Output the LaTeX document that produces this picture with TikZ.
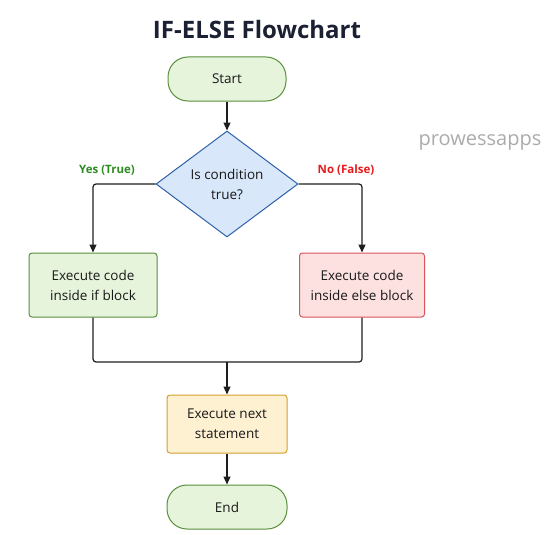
\documentclass[tikz,border=0pt]{standalone}
\usepackage{fontspec}
\setmainfont{Open Sans}
\usetikzlibrary{shapes.geometric,arrows.meta}
\definecolor{gfill}{HTML}{E6F4DC}
\definecolor{gdraw}{HTML}{5A8F3C}
\definecolor{bfill}{HTML}{D8E7F9}
\definecolor{bdraw}{HTML}{2E62A8}
\definecolor{rfill}{HTML}{FDE1E1}
\definecolor{rdraw}{HTML}{D9535A}
\definecolor{yfill}{HTML}{FDF1D2}
\definecolor{ydraw}{HTML}{D4A22C}
\definecolor{titlec}{HTML}{1B2033}
\definecolor{linec}{HTML}{1E1E1E}
\definecolor{yesc}{HTML}{2E8B22}
\definecolor{noc}{HTML}{E8191C}
\tikzset{
  x=1pt, y=-1pt,
  txt/.style={font=\fontsize{13.5}{20}\selectfont, text=black!90, align=center},
  term/.style={txt, draw=gdraw, fill=gfill, line width=1pt, rounded corners=20pt, minimum width=118pt, minimum height=44pt},
  procbox/.style={txt, draw=#1, line width=1pt, rounded corners=3pt, minimum height=64pt},
  decision/.style={txt, diamond, draw=bdraw, fill=bfill, line width=1pt, minimum width=142pt, minimum height=106pt, inner sep=0pt},
  conn/.style={draw=linec, line width=1.2pt, rounded corners=3pt},
  arr/.style={conn, -{Triangle[length=8pt,width=7pt]}},
  lab/.style={font=\fontsize{11.5}{13}\selectfont\bfseries}
}
\begin{document}
\begin{tikzpicture}
\useasboundingbox (0,0) rectangle (549,535);
\node[font=\fontsize{24}{28}\selectfont\bfseries, text=titlec] (title) at (257,30) {IF-ELSE Flowchart};
\node[font=\fontsize{20}{24}\selectfont, text=black!33] (wm) at (480,142) {prowessapps};
\node[term] (start) at (227,79) {Start};
\node[decision] (cond) at (227,184) {Is condition\\true?};
\node[procbox=gdraw, fill=gfill, minimum width=128pt] (ifb) at (93,285) {Execute code\\inside if block};
\node[procbox=rdraw, fill=rfill, minimum width=125pt] (elseb) at (362,285) {Execute code\\inside else block};
\node[procbox=ydraw, fill=yfill, minimum width=120pt, minimum height=58pt] (next) at (227,424) {Execute next\\statement};
\node[term, minimum width=120pt] (end) at (227,507) {End};
\coordinate (merge) at (227,362);
\node[lab, text=yesc] (yes) at (107,170) {Yes (True)};
\node[lab, text=noc] (no) at (346,170) {No (False)};
\draw[arr] (start) -- (cond.north);
\draw[arr] (cond.west) -| (ifb.north);
\draw[arr] (cond.east) -| (elseb.north);
\draw[conn] (ifb.south) |- (merge) -| (elseb.south);
\draw[arr] (merge) -- (next.north);
\draw[arr] (next) -- (end);
\end{tikzpicture}
\end{document}
